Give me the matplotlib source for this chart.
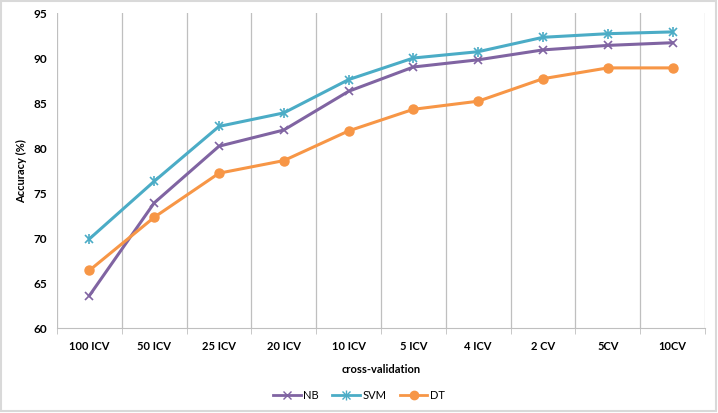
import numpy as np
import matplotlib.pyplot as plt
from matplotlib.patches import Rectangle
from matplotlib.lines import Line2D

plt.rcParams['font.family'] = ['Lato', 'DejaVu Sans']

# data
categories = ["100 ICV", "50 ICV", "25 ICV", "20 ICV", "10 ICV", "5 ICV", "4 ICV", "2 CV", "5CV", "10CV"]
nb = [63.6, 73.9, 80.2, 82.0, 86.3, 89.0, 89.8, 90.9, 91.4, 91.7]
svm = [69.9, 76.3, 82.4, 83.9, 87.6, 90.0, 90.7, 92.3, 92.7, 92.9]
dt = [66.4, 72.3, 77.2, 78.6, 81.9, 84.3, 85.2, 87.7, 88.9, 88.9]

c_nb = '#8064A2'
c_svm = '#4BACC6'
c_dt = '#F79646'

fig = plt.figure(figsize=(7.18, 4.14), dpi=100)
ax = fig.add_axes([57/718, 1-329/414, (705-57)/718, (329-14)/414])

x = np.arange(len(categories))
ax.plot(x, nb, color=c_nb, lw=2.2, marker='x', ms=6, mew=1.2)
ax.plot(x, svm, color=c_svm, lw=2.2, marker='x', ms=6, mew=1.2)
ax.plot(x, svm, color=c_svm, lw=0, marker='|', ms=7, mew=1.2)
ax.plot(x, dt, color=c_dt, lw=2.2, marker='o', ms=6.5)

ax.set_xlim(-0.5, len(categories) - 0.5)
ax.set_ylim(60, 95)
ax.set_yticks(np.arange(60, 96, 5))
ax.set_xticks(x)
ax.set_xticklabels(categories, fontweight='bold', fontsize=8)
for lab in ax.get_yticklabels():
    lab.set_fontweight('bold')
    lab.set_fontsize(8.5)

# vertical gridlines between categories
ax.set_xticks(np.arange(-0.5, len(categories), 1), minor=True)
ax.grid(True, which='minor', axis='x', color='#bfbfbf', lw=0.9)
ax.tick_params(axis='x', which='major', length=0, pad=9)
ax.tick_params(axis='x', which='minor', length=4, color='#bfbfbf')
ax.tick_params(axis='y', length=0, pad=7)
for s in ['top', 'right', 'left']:
    ax.spines[s].set_visible(False)
ax.spines['bottom'].set_color('#bfbfbf')

ax.set_xlabel('cross-validation', fontweight='bold', fontsize=8, labelpad=8)
ax.set_ylabel('Accuracy (%)', fontweight='bold', fontsize=8, labelpad=5)

h_nb = Line2D([], [], color=c_nb, lw=2, marker='x', ms=6)
h_svm1 = Line2D([], [], color=c_svm, lw=2, marker='x', ms=6)
h_svm2 = Line2D([], [], color=c_svm, lw=0, marker='|', ms=7)
h_dt = Line2D([], [], color=c_dt, lw=2, marker='o', ms=6)
fig.legend([h_nb, (h_svm1, h_svm2), h_dt], ['NB', 'SVM', 'DT'],
           loc='center', bbox_to_anchor=(0.5, 1-396/414), ncol=3,
           frameon=False, fontsize=8, handlelength=2.5, columnspacing=1.2,
           handletextpad=0.2)

fig.patches.append(Rectangle((0.002, 0.004), 0.995, 0.992, transform=fig.transFigure,
                             fill=False, edgecolor='#d9d9d9', lw=1.5))

fig.savefig('out.png', dpi=100)
